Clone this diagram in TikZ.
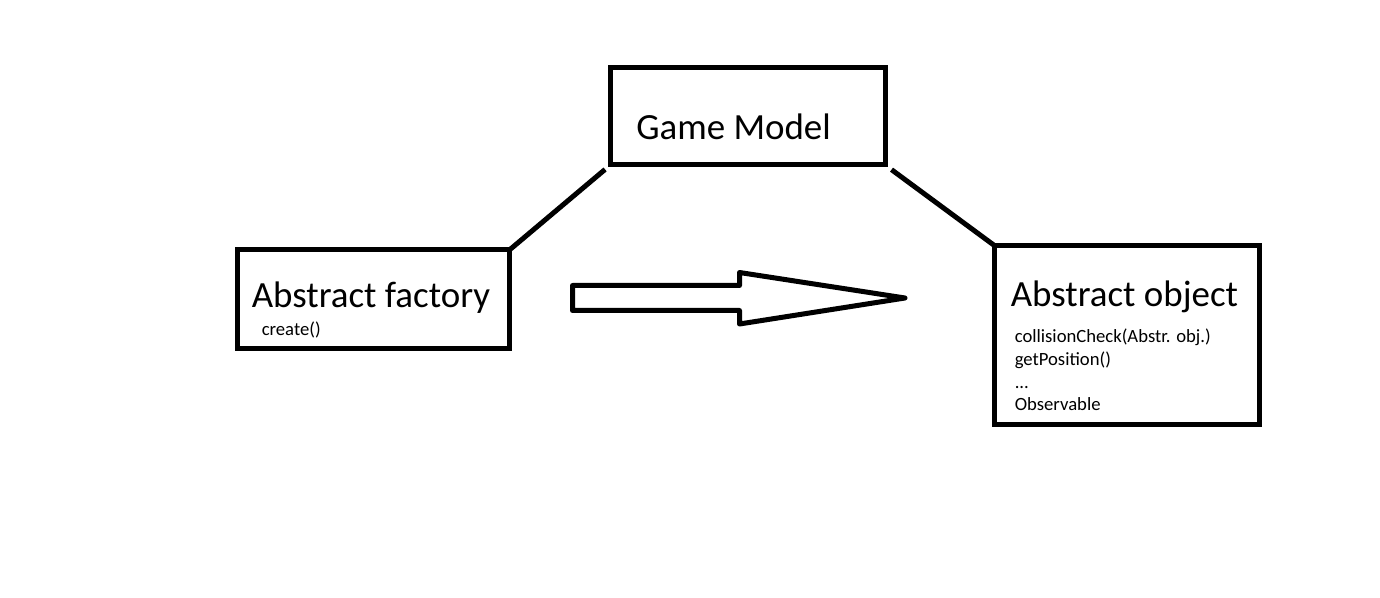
\documentclass[tikz,border=0pt]{standalone}
\usepackage{fontspec}
\setmainfont{Carlito}
\usetikzlibrary{positioning}
\tikzset{
    box/.style={rectangle, draw=black, line width=3.75pt, outer sep=0pt, inner sep=0pt},
    title/.style={font=\fontsize{27.7}{32}\selectfont, inner sep=0pt, anchor=base west},
    member/.style={font=\fontsize{14}{16}\selectfont, inner sep=0pt, anchor=base west},
    link/.style={line width=3.75pt},
}
\begin{document}
\begin{tikzpicture}[x=0.75pt, y=-0.75pt]
        \useasboundingbox (0,0) rectangle (1380,598);
        \node [box, minimum width=206pt, minimum height=73pt] (model) at (747.75,116.25) {};
        \node [box, minimum width=204pt, minimum height=74pt] (factory) at (373.5,299.25) {};
        \node [box, minimum width=199pt, minimum height=134pt] (object) at (1127.25,335) {};
        \node [title] (modelname) at (636,140) {Game Model};
        \node [title] (factoryname) at (251.5,308) {Abstract factory};
        \node [member] (create) at (261.5,335) {create()};
        \node [title] (objectname) at (1010.5,306) {Abstract object};
        \node [member] (collide) at (1014.5,343) {collisionCheck(Abstr. obj.)};
        \node [member] (getpos) at (1014.5,365.5) {getPosition()};
        \node [member] (dots) at (1014.5,388) {...};
        \node [member] (observ) at (1014.5,410.5) {Observable};
        \draw[link, shorten <=5.25pt] (model.south west) -- (factory.north east);
        \draw[link, shorten <=6pt] (model.south east) -- (object.north west);
        \draw[link, line join=round] (572.5,285.5) -- (739.5,285.5) -- (739.5,272.5)
            -- (905,298) -- (739.5,324) -- (739.5,310.5) -- (572.5,310.5) -- cycle;
    \end{tikzpicture}
\end{document}
